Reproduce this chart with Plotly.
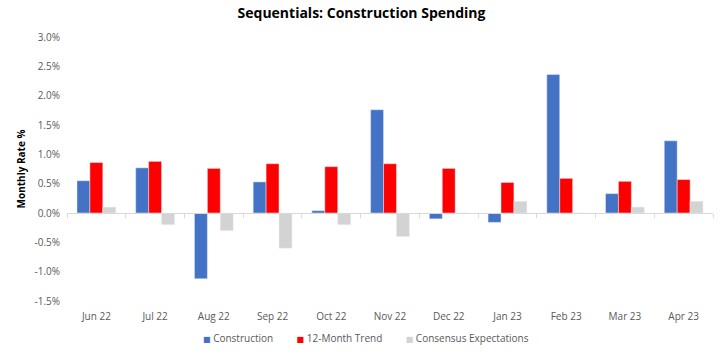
import plotly.graph_objects as go

months = ["Jun 22", "Jul 22", "Aug 22", "Sep 22", "Oct 22", "Nov 22",
          "Dec 22", "Jan 23", "Feb 23", "Mar 23", "Apr 23"]
construction = [0.55, 0.77, -1.12, 0.53, 0.04, 1.76, -0.10, -0.16, 2.36, 0.33, 1.23]
trend_12m = [0.86, 0.88, 0.76, 0.84, 0.79, 0.84, 0.76, 0.52, 0.59, 0.54, 0.57]
consensus = [0.10, -0.20, -0.30, -0.60, -0.20, -0.40, 0.0, 0.20, 0.0, 0.10, 0.20]
y_ticks = [-1.5, -1.0, -0.5, 0.0, 0.5, 1.0, 1.5, 2.0, 2.5, 3.0]

series_names = ["Construction", "12-Month Trend", "Consensus Expectations"]
series_values = [construction, trend_12m, consensus]
series_colors = ["#4472C4", "#FF0000", "#D3D3D3"]

FONT = "Open Sans, Liberation Sans, sans-serif"

fig = go.Figure()
for name, vals, col in zip(series_names, series_values, series_colors):
    fig.add_bar(x=months, y=vals, name=name, marker_color=col, showlegend=False)
# invisible trace carrying the zero-line axis with category boundary ticks
fig.add_scatter(x=months, y=[0] * len(months), xaxis="x2", mode="markers",
                marker_opacity=0, showlegend=False, hoverinfo="skip")

# compact Excel-style legend (small square swatch right before each name)
NBSP = "\u00a0"
legend_text = (NBSP * 9).join(
    f'<span style="color:{c};font-size:8px;font-family:DejaVu Sans">■</span>{NBSP}{n}'
    for n, c in zip(series_names, series_colors))
fig.add_annotation(text=legend_text, xref="paper", yref="paper",
                   x=0.463, y=-0.14, xanchor="center", yanchor="middle", showarrow=False,
                   font=dict(family=FONT, size=10, color="#595959"))

fig.update_layout(
    width=723, height=359,
    margin=dict(l=67, r=10, t=37, b=58, autoexpand=False),
    paper_bgcolor="white", plot_bgcolor="white",
    barmode="group", bargap=0.34, bargroupgap=0,
    font=dict(family=FONT, size=10, color="#595959"),
    title=dict(text="<b>Sequentials: Construction Spending</b>", x=0.5, xanchor="center",
               y=0.978, yanchor="top", font=dict(family=FONT, size=14, color="black")),
    xaxis=dict(type="category", categoryorder="array", categoryarray=months,
               range=[-0.5, 10.5], automargin=False,
               showline=False, showgrid=False, ticks="", zeroline=False,
               ticklabelstandoff=8,
               tickfont=dict(size=10, color="#595959")),
    xaxis2=dict(type="category", categoryorder="array", categoryarray=months,
                range=[-0.5, 10.5], automargin=False,
                overlaying="x", anchor="free", position=1 / 3,
                showline=True, linecolor="#D9D9D9", linewidth=1,
                ticks="outside", tickson="boundaries", ticklen=4, tickcolor="#D9D9D9",
                showticklabels=False, showgrid=False, zeroline=False),
    yaxis=dict(range=[-1.5, 3.0], tickvals=y_ticks, automargin=False,
               ticktext=[f"{v:.1f}%" for v in y_ticks],
               showgrid=False, zeroline=True, zerolinecolor="#D9D9D9", zerolinewidth=1,
               showline=False, ticks="", ticklabelstandoff=6,
               title=dict(text="<b>Monthly Rate %</b>", standoff=6,
                          font=dict(family=FONT, size=10, color="black"))),
    showlegend=False,
)

fig.write_html("out.html", config={"displayModeBar": False},
               post_script="document.body.style.margin='0';")
